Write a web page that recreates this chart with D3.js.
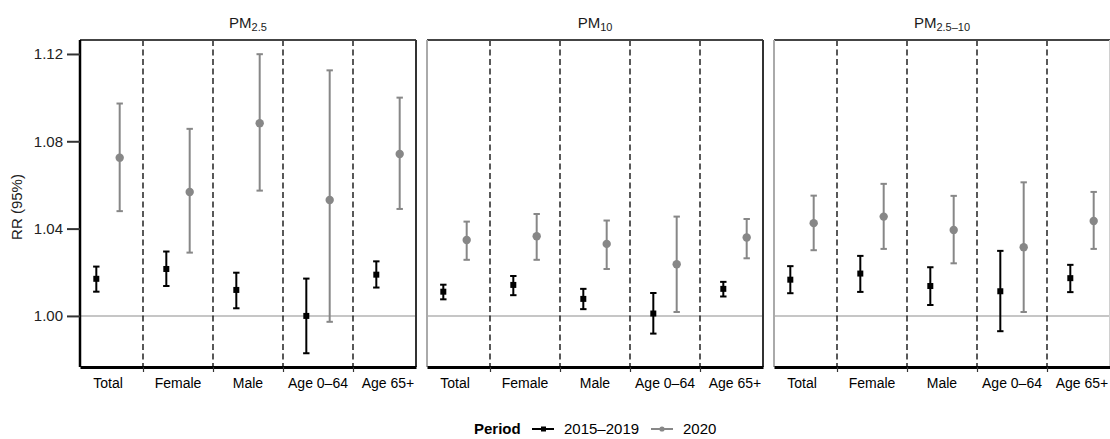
<!DOCTYPE html>
<html>
<head>
<meta charset="utf-8">
<script src="https://cdn.jsdelivr.net/npm/d3@7"></script>
<style>
  body { margin: 0; background: #fff; }
  svg { display: block; font-family: "Liberation Sans", Arial, sans-serif; }
</style>
</head>
<body>
<svg id="chart"></svg>
<script>
const WIDTH = 1110;
const HEIGHT = 439;

const panelMain = ['PM', 'PM', 'PM'];
const panelSub = ['2.5', '10', '2.5\u201310'];
const groups = ['Total', 'Female', 'Male', 'Age 0\u201364', 'Age 65+'];
const periods = ['2015\u20132019', '2020'];
const yTicks = [1.00, 1.04, 1.08, 1.12];

// one row per panel (PM2.5, PM10, PM2.5-10), one value per group
const est2015 = [
  [1.0170, 1.0215, 1.0119, 1.0000, 1.0189],
  [1.0111, 1.0142, 1.0078, 1.0011, 1.0124],
  [1.0166, 1.0194, 1.0137, 1.0113, 1.0173],
];
const lo2015 = [
  [1.0111, 1.0137, 1.0035, 0.9829, 1.0130],
  [1.0076, 1.0095, 1.0031, 0.9919, 1.0089],
  [1.0104, 1.0110, 1.0050, 0.9930, 1.0109],
];
const hi2015 = [
  [1.0226, 1.0295, 1.0198, 1.0171, 1.0250],
  [1.0143, 1.0183, 1.0124, 1.0105, 1.0156],
  [1.0228, 1.0275, 1.0223, 1.0298, 1.0234],
];
const est2020 = [
  [1.0725, 1.0568, 1.0883, 1.0531, 1.0742],
  [1.0348, 1.0365, 1.0330, 1.0237, 1.0359],
  [1.0425, 1.0455, 1.0394, 1.0315, 1.0435],
];
const lo2020 = [
  [1.0480, 1.0290, 1.0574, 0.9973, 1.0490],
  [1.0257, 1.0257, 1.0215, 1.0018, 1.0264],
  [1.0301, 1.0307, 1.0241, 1.0018, 1.0307],
];
const hi2020 = [
  [1.0973, 1.0857, 1.1199, 1.1125, 1.1000],
  [1.0432, 1.0467, 1.0437, 1.0455, 1.0444],
  [1.0551, 1.0605, 1.0550, 1.0612, 1.0568],
];

const periodColor = ['#000000', '#878787'];
const dodge = [-0.167, 0.167];

const TOP = 40;
const BOTTOM = 367;
const panelLeft = [80, 427, 774];
const PANEL_W = 336;

const yScale = d3.scaleLinear()
  .domain([0.9766, 1.1264])
  .range([BOTTOM, TOP]);

const svg = d3.select('#chart')
  .attr('width', WIDTH)
  .attr('height', HEIGHT);

// build rows for each panel
function rowsFor(p) {
  const rows = [];
  groups.forEach((g, i) => {
    rows.push({ period: 0, group: i, est: est2015[p][i], lo: lo2015[p][i], hi: hi2015[p][i] });
    rows.push({ period: 1, group: i, est: est2020[p][i], lo: lo2020[p][i], hi: hi2020[p][i] });
  });
  return rows;
}

panelMain.forEach((main, p) => {
  const x0 = panelLeft[p];
  const xScale = d3.scaleLinear()
    .domain([0.6, 5.4])
    .range([x0, x0 + PANEL_W]);
  const g = svg.append('g');

  // reference line at 1
  g.append('line')
    .attr('x1', x0).attr('x2', x0 + PANEL_W)
    .attr('y1', yScale(1)).attr('y2', yScale(1))
    .attr('stroke', '#b3b3b3').attr('stroke-width', 1.5);

  // dashed separators between groups
  g.selectAll('.sep')
    .data([1.5, 2.5, 3.5, 4.5])
    .enter().append('line')
    .attr('x1', d => xScale(d)).attr('x2', d => xScale(d))
    .attr('y1', TOP).attr('y2', BOTTOM)
    .attr('stroke', '#000').attr('stroke-width', 1.3)
    .attr('stroke-dasharray', '6,3.5');

  const rows = rowsFor(p);
  const px = d => xScale(d.group + 1 + dodge[d.period]);

  // error bars
  const bars = g.selectAll('.bar').data(rows).enter().append('g');
  bars.append('line')
    .attr('x1', px).attr('x2', px)
    .attr('y1', d => yScale(d.lo)).attr('y2', d => yScale(d.hi))
    .attr('stroke', d => periodColor[d.period]).attr('stroke-width', 2);
  ['lo', 'hi'].forEach(k => {
    bars.append('line')
      .attr('x1', d => px(d) - 3.2).attr('x2', d => px(d) + 3.2)
      .attr('y1', d => yScale(d[k])).attr('y2', d => yScale(d[k]))
      .attr('stroke', d => periodColor[d.period]).attr('stroke-width', 2);
  });

  // points
  g.selectAll('.sq').data(rows.filter(d => d.period === 0)).enter()
    .append('rect')
    .attr('x', d => px(d) - 3).attr('y', d => yScale(d.est) - 3)
    .attr('width', 6).attr('height', 6)
    .attr('fill', periodColor[0]);
  g.selectAll('.ci').data(rows.filter(d => d.period === 1)).enter()
    .append('circle')
    .attr('cx', px).attr('cy', d => yScale(d.est))
    .attr('r', 4.2)
    .attr('fill', periodColor[1]);

  // panel border
  g.append('line').attr('x1', x0).attr('x2', x0 + PANEL_W).attr('y1', TOP).attr('y2', TOP)
    .attr('stroke', '#444').attr('stroke-width', 2);
  g.append('line').attr('x1', x0 + PANEL_W).attr('x2', x0 + PANEL_W).attr('y1', TOP).attr('y2', BOTTOM)
    .attr('stroke', p === 2 ? '#d0d0d0' : '#333').attr('stroke-width', 2);
  g.append('line').attr('x1', x0).attr('x2', x0).attr('y1', TOP).attr('y2', BOTTOM)
    .attr('stroke', p === 0 ? '#000' : '#aaa').attr('stroke-width', p === 0 ? 2.5 : 2);

  // bottom axis: ticks at separators, labels at group centres
  const bottomAxis = d3.axisBottom(xScale)
    .tickValues([1.5, 2.5, 3.5, 4.5])
    .tickSize(5)
    .tickSizeOuter(0)
    .tickFormat('');
  const ax = g.append('g')
    .attr('transform', `translate(0, ${BOTTOM})`)
    .call(bottomAxis);
  ax.select('.domain').attr('stroke', '#000').attr('stroke-width', 3);
  ax.selectAll('.tick line').attr('stroke', '#333').attr('stroke-width', 1.2);

  g.selectAll('.xlab').data(groups).enter().append('text')
    .attr('x', (d, i) => xScale(i + 1))
    .attr('y', 388)
    .attr('text-anchor', 'middle')
    .attr('font-size', 14)
    .attr('fill', '#000')
    .text(d => d);

  // strip title
  const title = g.append('text')
    .attr('x', x0 + PANEL_W / 2)
    .attr('y', 28)
    .attr('text-anchor', 'middle')
    .attr('font-size', 15)
    .attr('fill', '#1a1a1a');
  title.append('tspan').text(main);
  title.append('tspan').attr('font-size', 11).attr('dy', 3).text(panelSub[p]);

  if (p === 0) {
    const leftAxis = d3.axisLeft(yScale)
      .tickValues(yTicks)
      .tickSize(13)
      .tickSizeOuter(0)
      .tickPadding(4)
      .tickFormat(d3.format('.2f'));
    const ay = g.append('g')
      .attr('transform', `translate(${x0}, 0)`)
      .call(leftAxis);
    ay.select('.domain').remove();
    ay.selectAll('.tick line').attr('stroke', '#333').attr('stroke-width', 2);
    ay.selectAll('.tick text').attr('font-size', 15).attr('fill', '#222')
      .attr('font-family', '"Liberation Sans", Arial, sans-serif');
  }
});

// y axis title
svg.append('text')
  .attr('transform', 'translate(22, 207) rotate(-90)')
  .attr('text-anchor', 'middle')
  .attr('font-size', 15)
  .attr('fill', '#222')
  .text('RR (95%)');

// legend
const legend = svg.append('g').attr('transform', 'translate(0, 429)');
legend.append('text')
  .attr('x', 474).attr('y', 5)
  .attr('font-size', 15).attr('font-weight', 'bold')
  .text('Period');
const legX = [532, 651];
periods.forEach((name, i) => {
  legend.append('line')
    .attr('x1', legX[i]).attr('x2', legX[i] + 22)
    .attr('y1', 0).attr('y2', 0)
    .attr('stroke', periodColor[i]).attr('stroke-width', 2);
  if (i === 0) {
    legend.append('rect').attr('x', legX[i] + 9).attr('y', -2.5)
      .attr('width', 5).attr('height', 5).attr('fill', periodColor[i]);
  } else {
    legend.append('circle').attr('cx', legX[i] + 11).attr('cy', 0)
      .attr('r', 2.6).attr('fill', periodColor[i]);
  }
  legend.append('text')
    .attr('x', legX[i] + 32).attr('y', 5)
    .attr('font-size', 15)
    .text(name);
});
</script>
</body>
</html>
